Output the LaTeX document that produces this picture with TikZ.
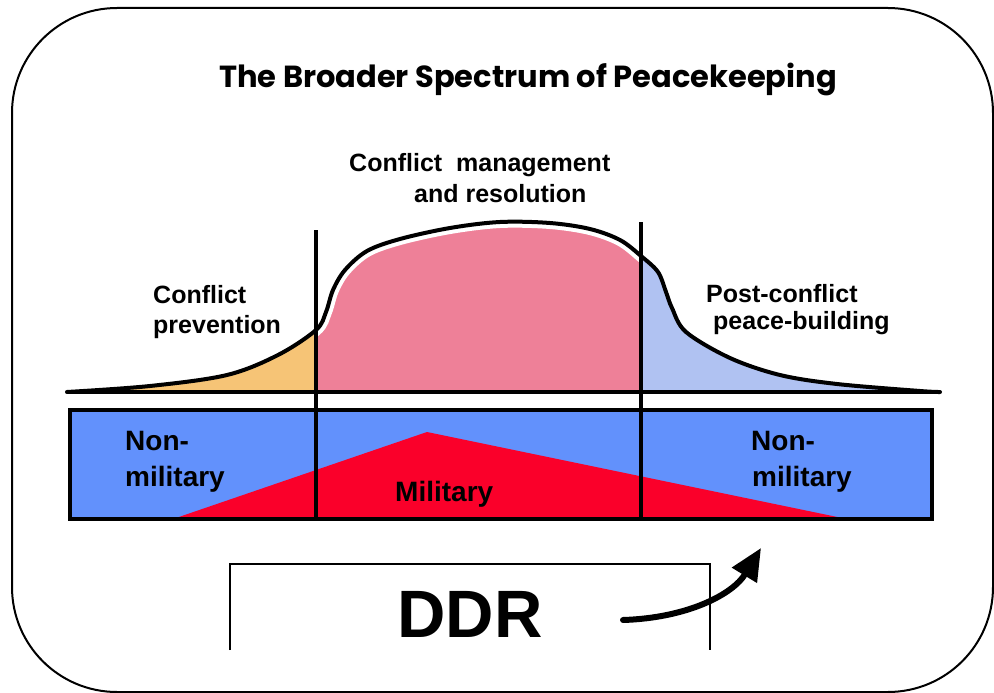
\documentclass[tikz,border=0pt]{standalone}
\usepackage{fontspec}
\setmainfont{Liberation Sans}
\newfontfamily\titlefont{Poppins}
\usetikzlibrary{arrows.meta}
\definecolor{barblue}{RGB}{98,145,252}
\definecolor{barred}{RGB}{250,0,42}
\definecolor{hatchorange}{RGB}{246,196,118}
\definecolor{hatchred}{RGB}{238,128,152}
\definecolor{hatchblue}{RGB}{176,194,242}
\tikzset{
  lbl/.style={font=\fontsize{25}{30}\selectfont\bfseries, inner sep=0pt, anchor=base west},
  barlbl/.style={font=\fontsize{28}{32}\selectfont\bfseries, inner sep=0pt, anchor=base west},
  titlelbl/.style={font=\titlefont\fontsize{30.5}{36}\selectfont\bfseries, inner sep=0pt, anchor=base},
  ddrlbl/.style={font=\fontsize{67}{70}\selectfont\bfseries, inner sep=0pt, anchor=base},
  frame/.style={draw=black, line width=2pt, rounded corners=105pt},
  thickline/.style={draw=black, line width=4pt},
  divider/.style={draw=black, line width=3.5pt},
  curveline/.style={draw=black, line width=4pt, line join=round, line cap=round},
  openbox/.style={draw=black, line width=1.5pt},
  bigarrow/.style={draw=black, line width=6pt, line cap=round, -{Triangle[length=32pt,width=28pt]}},
}
\newcommand\spectrumcurve{plot[smooth, tension=0.55] coordinates {(67,392) (150,386) (227,375) (278,355) (316,330) (326,312) (333,290) (345,270) (367,251) (400,239) (450,228) (500,222) (550,223) (590,229) (620,240) (641,256) (658,272) (666,292) (672,308) (686,332) (730,358) (780,375) (837,384) (920,391) (940,392)}}
\begin{document}
\begin{tikzpicture}[x=1pt, y=-1pt]
  \useasboundingbox (0,0) rectangle (994,693);
  % outer frame
  \path[frame] (12,8) rectangle (993,692);
  % title
  \node[titlelbl] (title) at (528,88) {The Broader Spectrum of Peacekeeping};
  % fills under the curve
  \begin{scope}
    \clip (60,200) rectangle (316,392);
    \fill[hatchorange] \spectrumcurve -- cycle;
  \end{scope}
  \begin{scope}
    \clip (316,200) rectangle (641,392);
    \fill[hatchred] \spectrumcurve -- cycle;
    \draw[white, line width=12pt] \spectrumcurve;
  \end{scope}
  \begin{scope}
    \clip (641,200) rectangle (945,392);
    \fill[hatchblue] \spectrumcurve -- cycle;
  \end{scope}
  % curve and axis
  \draw[curveline] \spectrumcurve;
  \coordinate (axL) at (67,392);
  \coordinate (axR) at (940,392);
  \draw[thickline] (axL) -- (axR);
  % bar
  \coordinate (barNW) at (70,410);
  \coordinate (barSE) at (932,519);
  \fill[barblue] (barNW) rectangle (barSE);
  \coordinate (triL) at (173,519);
  \coordinate (triT) at (427,432);
  \coordinate (triR) at (847,519);
  \fill[barred] (triL) -- (triT) -- (triR) -- cycle;
  \draw[divider] (barNW) rectangle (barSE);
  % dividers
  \coordinate (d1t) at (316,230);
  \coordinate (d1b) at (316,519);
  \coordinate (d2t) at (641,222);
  \coordinate (d2b) at (641,519);
  \draw[divider] (d1t) -- (d1b);
  \draw[divider] (d2t) -- (d2b);
  % curve labels
  \node[lbl] (cm1) at (349,171) {Conflict\ \ management};
  \node[lbl] (cm2) at (414,202) {and resolution};
  \node[lbl] (cp1) at (153,303) {Conflict};
  \node[lbl] (cp2) at (153,333) {prevention};
  \node[lbl] (pc1) at (706,302) {Post-conflict};
  \node[lbl] (pc2) at (713,329) {peace-building};
  % bar labels
  \node[barlbl] (nm1) at (125,450) {Non-};
  \node[barlbl] (nm2) at (125,486) {military};
  \node[barlbl] (mil) at (395,501) {Military};
  \node[barlbl] (nm3) at (751,450) {Non-};
  \node[barlbl] (nm4) at (752,486) {military};
  % DDR box (open at bottom)
  \coordinate (bxBL) at (230,650);
  \coordinate (bxTL) at (230,564);
  \coordinate (bxTR) at (710,564);
  \coordinate (bxBR) at (710,650);
  \draw[openbox] (bxBL) -- (bxTL) -- (bxTR) -- (bxBR);
  \node[ddrlbl] (ddr) at (470,637) {DDR};
  % arrow
  \coordinate (arrS) at (623,620);
  \coordinate (arrE) at (761,548);
  \draw[bigarrow] (arrS) .. controls (688,618) and (733,594) .. (arrE);
\end{tikzpicture}
\end{document}
